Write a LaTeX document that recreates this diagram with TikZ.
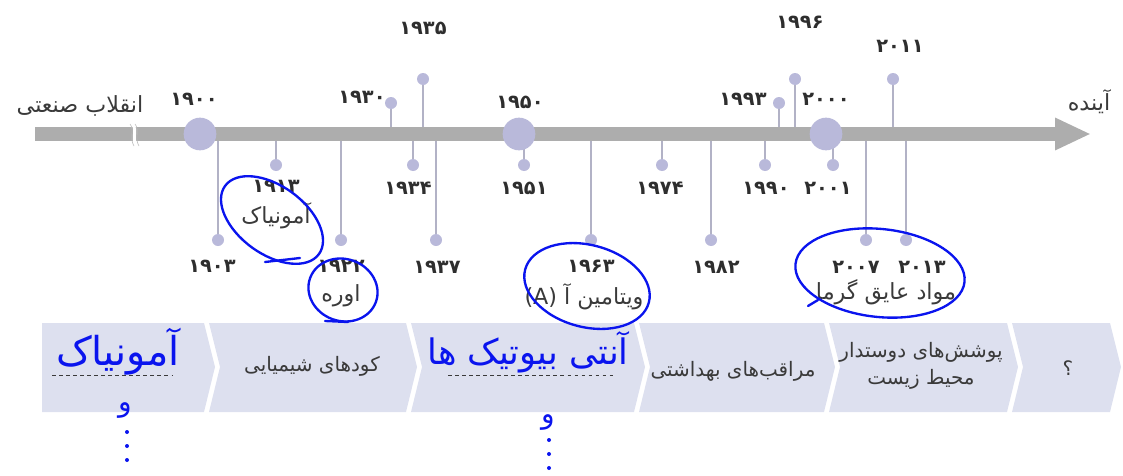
\documentclass[tikz,border=0pt]{standalone}
\usepackage{fontspec}
\newfontfamily\fa[Script=Arabic]{DejaVu Sans}
\TeXXeTstate=1
\usetikzlibrary{arrows.meta,positioning}
\definecolor{axisgray}{HTML}{ADADAD}
\definecolor{stemgray}{HTML}{B2B2C6}
\definecolor{lav}{HTML}{B9B9DA}
\definecolor{bandc}{HTML}{DDE0EF}
\definecolor{yeargray}{HTML}{2E2E2E}
\definecolor{txtgray}{HTML}{3A3A3A}
\definecolor{inkblue}{HTML}{0A14EE}

\begin{document}
\begin{tikzpicture}[x=0.03cm,y=-0.03cm,
    axis/.style={draw=axisgray,line width=0.42cm,-{Triangle[length=1.08cm,width=0.9cm]}},
    stem/.style={draw=stemgray,line width=0.9pt},
    dot/.style={circle,fill=lav,inner sep=0pt,minimum size=0.36cm},
    bigdot/.style={circle,fill=lav,inner sep=0pt,minimum size=0.98cm},
    year/.style={font=\fa\bfseries\fontsize{16.5}{16.5}\selectfont,text=yeargray,inner sep=0pt},
    lbl/.style={font=\fa\fontsize{19}{21}\selectfont,text=txtgray,inner sep=0pt},
    band/.style={fill=bandc},
    boxtext/.style={font=\fa\fontsize{17}{23}\selectfont,text=txtgray,align=center,inner sep=0pt},
    ink/.style={draw=inkblue,line width=2pt,line cap=round},
    hand/.style={font=\fa\fontsize{34}{34}\selectfont,text=inkblue,inner sep=0pt}]
  \useasboundingbox (0,0) rectangle (1123,475);

  \foreach \n/\x/\dy/\lx/\ly/\t in {1930/391/103/362/97/۱۹۳۰, 1935/423/79/423/28/۱۹۳۵,
      1993/779/103/743/99/۱۹۹۳, 1996/795/79/800/22/۱۹۹۶, 2011/893/79/900/46/۲۰۱۱,
      1903/218/240/212/266/۱۹۰۳, 1913/276/165/276/186/۱۹۱۳, 1922/341/240/341/266/۱۹۲۲,
      1934/413/165/408/188/۱۹۳۴, 1937/436/240/437/267/۱۹۳۷, 1951/524/165/524/188/۱۹۵۱,
      1963/591/240/591/266/۱۹۶۳, 1974/662/165/660/188/۱۹۷۴, 1982/711/240/716/267/۱۹۸۲,
      1990/765/165/766/188/۱۹۹۰, 2001/833/165/828/188/۲۰۰۱, 2007/866/240/856/267/۲۰۰۷,
      2013/906/240/922/267/۲۰۱۳}{
    \coordinate (a\n) at (\x,134);
    \node[dot] (d\n) at (\x,\dy) {};
    \draw[stem] (a\n) -- (d\n);
    \node[year] (y\n) at (\lx,\ly) {\t};
  }

  \coordinate (past) at (35,134);
  \coordinate (future) at (1091,134);
  \draw[axis] (past) -- (future);
  \fill[white] (131,124) .. controls (136,130) and (130,138) .. (135,146) -- (138,146)
       .. controls (133,138) and (139,130) .. (134,124) -- cycle;
  \draw[axisgray!80,line width=0.5pt] (130,124) .. controls (135,130) and (129,138) .. (134,146);
  \draw[axisgray!80,line width=0.5pt] (135,124) .. controls (140,130) and (134,138) .. (139,146);

  \node[bigdot] (c1900) at (200,134) {};
  \node[bigdot] (c1950) at (519,134) {};
  \node[bigdot] (c2000) at (826,134) {};
  \node[year] (y1900) at (194,99) {۱۹۰۰};
  \node[year] (y1950) at (520,102) {۱۹۵۰};
  \node[year] (y2000) at (826,99) {۲۰۰۰};

  \node[lbl] (start) at (80,106) {\beginR انقلاب صنعتی\endR};
  \node[lbl] (end) at (1089,102) {\beginR آینده\endR};
  \node[lbl] (ammonia) at (276,216) {\beginR آمونیاک\endR};
  \node[lbl] (urea) at (341,296) {\beginR اوره\endR};
  \node[lbl] (vitA) at (584,297) {\beginR ویتامین آ \beginL(A)\endL\endR};
  \node[lbl] (insul) at (886,292) {\beginR مواد عایق گرما\endR};

  \fill[band] (42,323) -- (204,323) -- (215,367) -- (204,412) -- (42,412) -- cycle;
  \foreach \l/\r in {209/406, 411/634, 639/824, 829/1007, 1012/1110}
    \fill[band] (\l,323) -- (\r,323) -- (\r+11,367) -- (\r,412) -- (\l,412) -- (\l+11,367) -- cycle;

  \draw[txtgray,dashed,line width=0.6pt] (52,375) -- (172,375);
  \node[boxtext] (b2) at (312,366) {\beginR کودهای شیمیایی\endR};
  \draw[txtgray,dashed,line width=0.6pt] (448,375) -- (614,375);
  \node[boxtext] (b4) at (733,371) {\beginR مراقب‌های بهداشتی\endR};
  \node[boxtext] (b5) at (921,366) {\beginR پوشش‌های دوستدار\endR\\\beginR محیط زیست\endR};
  \node[boxtext] (b6) at (1068,368) {؟};

  \draw[ink,rotate around={-36:(272,220)}] (272,220) ellipse [x radius=58, y radius=34];
  \draw[ink] (300,258) -- (265,262);
  \draw[ink,rotate around={-20:(343,290)}] (343,290) ellipse [x radius=35, y radius=31];
  \draw[ink] (348,322) -- (325,321);
  \draw[ink,rotate around={-15:(587,286)}] (587,286) ellipse [x radius=64, y radius=41];
  \draw[ink,rotate around={-6:(880,273)}] (880,273) ellipse [x radius=85, y radius=44];
  \draw[ink] (818,300) -- (808,306);

  \node[hand] (h1) at (118,352) {\beginR آمونیاک\endR};
  \node[hand,font=\fa\fontsize{24}{24}\selectfont] (h1v) at (125,410) {و};
  \node[hand,font=\fa\fontsize{30}{30}\selectfont] (h3) at (528,352) {\beginR آنتی بیوتیک ها\endR};
  \node[hand,font=\fa\fontsize{24}{24}\selectfont] (h3v) at (548,422) {و};
  \foreach \y in {432,446,460} {
    \fill[inkblue] (127,\y) circle [radius=2];
    \fill[inkblue] (549,\y+8) circle [radius=2];
  }
\end{tikzpicture}
\end{document}
